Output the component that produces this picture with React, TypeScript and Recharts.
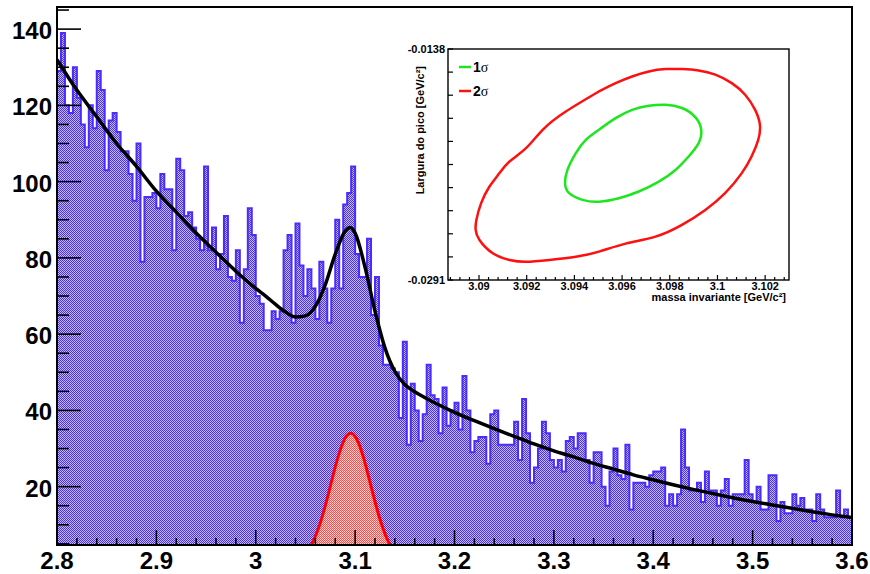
import { ComposedChart, LineChart, Area, Line, XAxis, YAxis } from 'recharts';

const FONT = '"Liberation Sans", Arial, Helvetica, sans-serif';

// histogram: 200 bins of 0.004 starting at 2.8
const binStart = 2.8;
const binWidth = 0.004;
const binCounts = [
  129, 139, 120, 118, 130, 122, 115, 109, 120, 114,
  129, 124, 103, 116, 118, 113, 108, 108, 102, 95,
  110, 79, 96, 96, 97, 93, 102, 98, 98, 82,
  106, 103, 91, 92, 88, 85, 82, 104, 82, 88,
  77, 81, 91, 75, 74, 82, 63, 77, 93, 86,
  70, 68, 61, 61, 66, 64, 66, 82, 86, 63,
  89, 78, 70, 77, 72, 64, 79, 72, 63, 72,
  90, 72, 94, 97, 104, 81, 75, 75, 85, 65,
  75, 57, 52, 52, 51, 50, 38, 58, 31, 47,
  40, 32, 39, 52, 44, 43, 34, 46, 36, 40,
  42, 35, 49, 40, 29, 32, 33, 33, 26, 39,
  40, 31, 31, 31, 31, 37, 27, 43, 34, 21,
  25, 30, 37, 34, 27, 25, 27, 24, 32, 33,
  30, 34, 34, 27, 21, 29, 29, 20, 15, 24,
  30, 23, 22, 31, 14, 21, 21, 21, 20, 23,
  24, 24, 25, 15, 18, 15, 18, 35, 25, 19,
  19, 21, 16, 24, 19, 19, 15, 19, 22, 15,
  18, 18, 18, 27, 18, 16, 20, 14, 14, 23,
  23, 11, 16, 13, 13, 18, 15, 17, 14, 14,
  11, 18, 14, 12, 12, 12, 19, 12, 14, 12,
];

// total fit (background + peak)
const fitX = [
  2.8, 2.82, 2.84, 2.86, 2.88, 2.9, 2.92, 2.94, 2.96, 2.98,
  3.0, 3.01, 3.02, 3.03, 3.04, 3.05, 3.06, 3.07, 3.08, 3.09,
  3.095, 3.1, 3.11, 3.12, 3.13, 3.14, 3.15, 3.16, 3.17, 3.18,
  3.2, 3.22, 3.24, 3.26, 3.28, 3.3, 3.32, 3.34, 3.36, 3.38,
  3.4, 3.42, 3.44, 3.46, 3.48, 3.5, 3.52, 3.54, 3.56, 3.58, 3.6,
];
const fitY = [
  132, 124, 117, 110, 104, 97.5, 92, 86.5, 81.5, 76.5,
  72, 70, 67.8, 65.8, 64.5, 64.8, 67.3, 73, 81, 87,
  88, 86.5, 77.5, 66, 56.4, 50.2, 46.8, 44.9, 43.4, 42,
  39.5, 37.3, 35.2, 33.2, 31.2, 29.4, 27.8, 26.1, 24.6, 23.1,
  21.8, 20.5, 19.3, 18.2, 17.1, 16.1, 15.2, 14.3, 13.4, 12.6, 11.9,
];

// signal gaussian
const sigX = [
  3.056, 3.06, 3.064, 3.068, 3.072, 3.076, 3.08, 3.084, 3.088, 3.092, 3.096,
  3.1, 3.104, 3.108, 3.112, 3.116, 3.12, 3.124, 3.128, 3.132, 3.135,
];
const sigY = [
  4.8, 7.0, 9.8, 13.2, 17.0, 21.1, 25.2, 28.8, 31.7, 33.5, 34.0,
  33.2, 31.1, 28.0, 24.2, 20.1, 16.1, 12.3, 9.1, 6.4, 4.8,
];

const mainXTicks = [
  2.8, 2.82, 2.84, 2.86, 2.88, 2.9, 2.92, 2.94, 2.96, 2.98,
  3.0, 3.02, 3.04, 3.06, 3.08, 3.1, 3.12, 3.14, 3.16, 3.18,
  3.2, 3.22, 3.24, 3.26, 3.28, 3.3, 3.32, 3.34, 3.36, 3.38,
  3.4, 3.42, 3.44, 3.46, 3.48, 3.5, 3.52, 3.54, 3.56, 3.58, 3.6,
];
const mainYTicks = [5, 10, 15, 20, 25, 30, 35, 40, 45, 50, 55, 60, 65, 70, 75, 80, 85, 90, 95, 100, 105, 110, 115, 120, 125, 130, 135, 140, 145];

// inset: contour of mass vs width
const redM = [
  3.09503, 3.09573, 3.09642, 3.09712, 3.09782, 3.09851, 3.09921, 3.09991, 3.1006, 3.10116,
  3.10158, 3.10178, 3.10171, 3.10143, 3.10102, 3.10032, 3.09949, 3.09851, 3.0974, 3.09615,
  3.09503, 3.09406, 3.09295, 3.09197, 3.09128, 3.09058, 3.09002, 3.08986, 3.08989, 3.09009,
  3.09044, 3.09086, 3.09128, 3.09197, 3.09267, 3.09364, 3.09503,
];
const redW = [
  -0.01661, -0.01606, -0.01562, -0.01529, -0.01513, -0.01513, -0.01522, -0.0155, -0.01606, -0.01683,
  -0.01783, -0.01882, -0.01982, -0.02092, -0.02202, -0.02335, -0.02446, -0.02545, -0.02623, -0.02669,
  -0.02722, -0.02756, -0.02777, -0.02789, -0.02777, -0.02733, -0.02645, -0.02578, -0.02512, -0.02401,
  -0.02291, -0.02202, -0.02125, -0.02037, -0.01915, -0.01794, -0.01661,
];
const greenM = [
  3.09503, 3.09573, 3.09642, 3.09712, 3.09782, 3.09851, 3.09907, 3.09932, 3.09921, 3.09879,
  3.09824, 3.09754, 3.0967, 3.09587, 3.09503, 3.09434, 3.09378, 3.09361, 3.09371, 3.09406,
  3.09448, 3.09503,
];
const greenW = [
  -0.01915, -0.01838, -0.01783, -0.01756, -0.01749, -0.01771, -0.01831, -0.01915, -0.02003, -0.02092,
  -0.02181, -0.02258, -0.02324, -0.02368, -0.02391, -0.02379, -0.02335, -0.02269, -0.02181, -0.0207,
  -0.01982, -0.01915,
];

const insetXTicks = [
  3.0888, 3.0892, 3.0896, 3.09, 3.0904, 3.0908, 3.0912, 3.0916, 3.092, 3.0924,
  3.0928, 3.0932, 3.0936, 3.094, 3.0944, 3.0948, 3.0952, 3.0956, 3.096, 3.0964,
  3.0968, 3.0972, 3.0976, 3.098, 3.0984, 3.0988, 3.0992, 3.0996, 3.1, 3.1004,
  3.1008, 3.1012, 3.1016, 3.102, 3.1024, 3.1028,
];
const insetYTicks = [-0.0291, -0.02757, -0.02604, -0.02451, -0.02298, -0.02145, -0.01992, -0.01839, -0.01686, -0.01533, -0.0138];

const histData = binCounts.map((c, i) => ({ x: binStart + i * binWidth, c }));
histData.push({ x: binStart + binCounts.length * binWidth, c: binCounts[binCounts.length - 1] });
const fitData = fitX.map((x, i) => ({ x, f: fitY[i] }));
const sigData = sigX.map((x, i) => ({ x, s: sigY[i] }));
const redData = redM.map((m, i) => ({ m, w: redW[i] }));
const greenData = greenM.map((m, i) => ({ m, w: greenW[i] }));

function MainXTick({ x, y, payload }: any) {
  const v = payload.value as number;
  const major = Math.abs(v * 10 - Math.round(v * 10)) < 1e-6;
  return (
    <g>
      <line x1={x} x2={x} y1={y} y2={y - (major ? 15 : 7)} stroke="#000" strokeWidth={1.6} />
      {major && (
        <text x={x} y={y + 24} textAnchor="middle" fontFamily={FONT} fontWeight="bold" fontSize={24} fill="#000">
          {String(Math.round(v * 10) / 10)}
        </text>
      )}
    </g>
  );
}

function MainYTick({ x, y, payload }: any) {
  const v = payload.value as number;
  const major = v % 20 === 0;
  return (
    <g>
      <line x1={x} x2={x + (major ? 24 : 12)} y1={y} y2={y} stroke="#000" strokeWidth={1.6} />
      {major && (
        <text x={x - 5} y={y + 10} textAnchor="end" fontFamily={FONT} fontWeight="bold" fontSize={24} fill="#000">
          {v}
        </text>
      )}
    </g>
  );
}

function InsetXTick({ x, y, payload }: any) {
  const v = payload.value as number;
  const major = Math.abs(v * 500 - Math.round(v * 500)) < 1e-6;
  return (
    <g>
      <line x1={x} x2={x} y1={y} y2={y - (major ? 5 : 3)} stroke="#000" strokeWidth={1.2} />
      {major && (
        <text x={x} y={y + 10} textAnchor="middle" fontFamily={FONT} fontWeight="bold" fontSize={11} fill="#000">
          {String(parseFloat(v.toFixed(3)))}
        </text>
      )}
    </g>
  );
}

function InsetYTick({ x, y, payload, index }: any) {
  const v = payload.value as number;
  const end = index === 0 || index === insetYTicks.length - 1;
  return (
    <g>
      <line x1={x} x2={x + 5} y1={y} y2={y} stroke="#000" strokeWidth={1.2} />
      {end && (
        <text x={x - 3} y={y + 4} textAnchor="end" fontFamily={FONT} fontWeight="bold" fontSize={11} fill="#000">
          {v.toFixed(4)}
        </text>
      )}
    </g>
  );
}

const mainMargin = { top: 7, right: 18, bottom: 0, left: 0 };

// axes of the main plot, drawn twice: hidden under the series and again on top so ticks sit over the fill
function MainAxes(show: boolean) {
  return [
    <XAxis
      key="x"
      dataKey="x"
      type="number"
      domain={[2.8, 3.6]}
      allowDataOverflow
      ticks={mainXTicks}
      interval={0}
      height={29}
      axisLine={false}
      tickLine={false}
      tickSize={0}
      tickMargin={0}
      tick={show ? (p: any) => <MainXTick {...p} /> : false}
    />,
    <YAxis
      key="y"
      type="number"
      domain={[4.7, 145.8]}
      allowDataOverflow
      ticks={mainYTicks}
      interval={0}
      width={57}
      axisLine={false}
      tickLine={false}
      tickSize={0}
      tickMargin={0}
      tick={show ? (p: any) => <MainYTick {...p} /> : false}
    />,
  ];
}

export default function App() {
  return (
    <div style={{ position: 'absolute', left: 0, top: 0, width: 870, height: 574, background: '#fff', overflow: 'hidden' }}>
      <svg width={0} height={0} style={{ position: 'absolute' }}>
        <defs>
          <pattern id="histPat" width="2" height="2" patternUnits="userSpaceOnUse">
            <rect width="2" height="2" fill="#c6bdff" />
            <rect width="1" height="1" fill="#4a2cf2" />
            <rect x="1" y="1" width="1" height="1" fill="#4a2cf2" />
          </pattern>
          <pattern id="sigPat" width="2" height="2" patternUnits="userSpaceOnUse">
            <rect width="2" height="2" fill="#ffd2d2" />
            <rect width="1" height="1" fill="#ff4a4a" />
            <rect x="1" y="1" width="1" height="1" fill="#ff4a4a" />
          </pattern>
        </defs>
      </svg>

      <div style={{ position: 'absolute', left: 0, top: 0 }}>
        <ComposedChart width={870} height={574} margin={mainMargin}>
          <Area
            data={histData}
            dataKey="c"
            type="stepAfter"
            stroke="#4a2cff"
            strokeWidth={2}
            fill="url(#histPat)"
            fillOpacity={1}
            baseValue="dataMin"
            isAnimationActive={false}
            dot={false}
            activeDot={false}
          />
          <Area
            data={sigData}
            dataKey="s"
            type="monotone"
            stroke="#ff0000"
            strokeWidth={3}
            fill="url(#sigPat)"
            fillOpacity={1}
            baseValue="dataMin"
            isAnimationActive={false}
            dot={false}
            activeDot={false}
          />
          <Line
            data={fitData}
            dataKey="f"
            type="monotone"
            stroke="#000"
            strokeWidth={3.5}
            dot={false}
            activeDot={false}
            isAnimationActive={false}
          />
          {MainAxes(false)}
        </ComposedChart>
      </div>

      <div style={{ position: 'absolute', left: 0, top: 0, pointerEvents: 'none' }}>
        <ComposedChart width={870} height={574} margin={mainMargin}>
          {MainAxes(true)}
        </ComposedChart>
      </div>

      <div style={{ position: 'absolute', left: 398, top: 28, width: 404, height: 284, background: '#fff' }}>
        <LineChart width={404} height={284} margin={{ top: 21, right: 13, bottom: 0, left: 0 }}>
          <Line data={redData} dataKey="w" type="natural" stroke="#ff1010" strokeWidth={2.5} dot={false} activeDot={false} isAnimationActive={false} />
          <Line data={greenData} dataKey="w" type="natural" stroke="#1ee61e" strokeWidth={2.5} dot={false} activeDot={false} isAnimationActive={false} />
          <XAxis
            dataKey="m"
            type="number"
            domain={[3.0887, 3.103]}
            allowDataOverflow
            ticks={insetXTicks}
            interval={0}
            height={32}
            axisLine={false}
            tickLine={false}
            tickSize={0}
            tickMargin={0}
            tick={(p: any) => <InsetXTick {...p} />}
          />
          <YAxis
            type="number"
            domain={[-0.0291, -0.0138]}
            allowDataOverflow
            ticks={insetYTicks}
            interval={0}
            width={50}
            axisLine={false}
            tickLine={false}
            tickSize={0}
            tickMargin={0}
            tick={(p: any) => <InsetYTick {...p} />}
          />
        </LineChart>
      </div>

      <svg width={870} height={574} style={{ position: 'absolute', left: 0, top: 0, pointerEvents: 'none' }}>
        <rect x={57} y={7} width={795} height={538} fill="none" stroke="#000" strokeWidth={2} />
        <rect x={448} y={49} width={341} height={231} fill="none" stroke="#000" strokeWidth={1.4} />
        <text
          x={424}
          y={66}
          transform="rotate(-90 424 66)"
          textAnchor="end"
          fontFamily={FONT}
          fontWeight="bold"
          fontSize={11}
          fill="#000"
        >
          Largura do pico [GeV/c²]
        </text>
        <text x={786} y={301} textAnchor="end" fontFamily={FONT} fontWeight="bold" fontSize={11} fill="#000">
          massa invariante [GeV/c²]
        </text>
        <line x1={459} x2={471} y1={67} y2={67} stroke="#1ee61e" strokeWidth={2.5} />
        <text x={473} y={72} fontSize={14} fill="#000">
          <tspan fontFamily={FONT} fontWeight="bold">1</tspan>
          <tspan fontFamily='"Liberation Serif", serif'>σ</tspan>
        </text>
        <line x1={459} x2={471} y1={91} y2={91} stroke="#ff1010" strokeWidth={2.5} />
        <text x={473} y={96} fontSize={14} fill="#000">
          <tspan fontFamily={FONT} fontWeight="bold">2</tspan>
          <tspan fontFamily='"Liberation Serif", serif'>σ</tspan>
        </text>
      </svg>
    </div>
  );
}
